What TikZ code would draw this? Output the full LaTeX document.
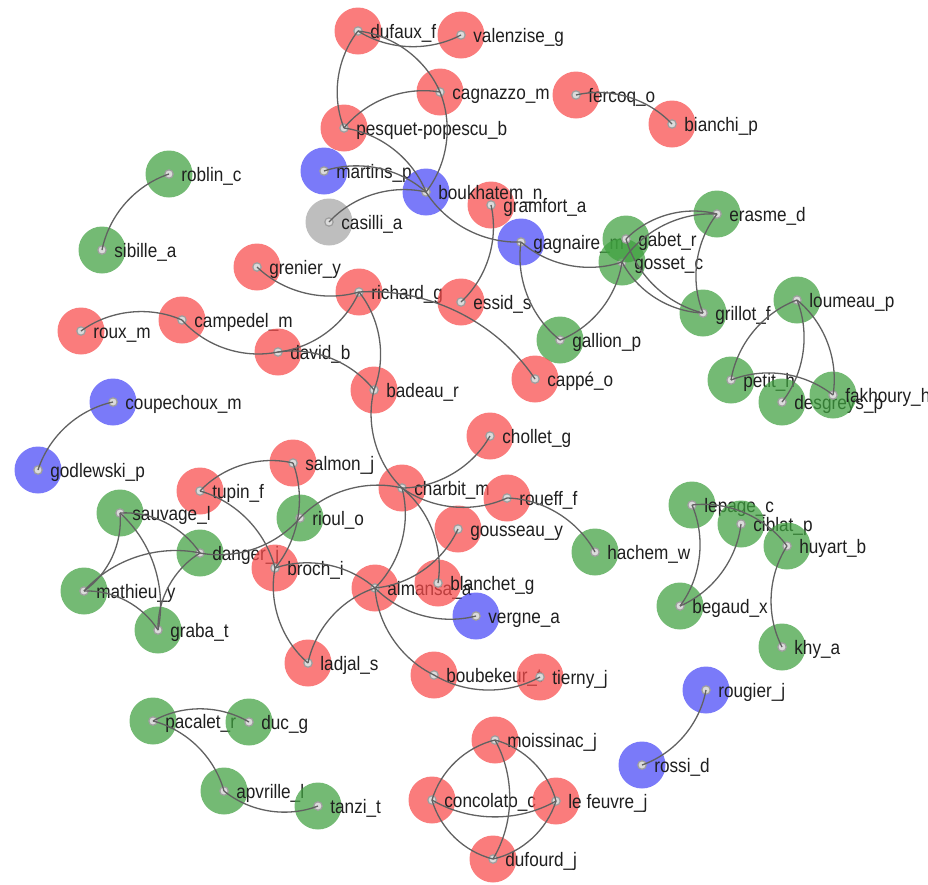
\documentclass[tikz,border=0pt]{standalone}
\usepackage{fontspec}
\newfontfamily\aufont{Liberation Sans}[FakeStretch=0.88]
\usetikzlibrary{positioning}

\definecolor{aured}{RGB}{248,74,74}
\definecolor{augreen}{RGB}{62,160,62}
\definecolor{aublue}{RGB}{70,70,246}
\definecolor{augrey}{RGB}{165,165,165}

\begin{document}
\begin{tikzpicture}[
    x=1pt, y=-1pt,
    ctrdot/.style={opacity=1, fill=black!14, draw=black!38, line width=1.2pt},
    lbl/.style={anchor=base west, inner sep=0pt, xshift=-11.5pt, yshift=-7pt, text opacity=1,
      fill opacity=1, text=black!88, font=\aufont\fontsize{19.5}{20}\selectfont},
    au/.style={circle, inner sep=0pt, minimum size=47pt, fill opacity=.72,
      path picture={\draw[ctrdot] (path picture bounding box.center) circle (4.2pt);},
      label={[lbl]right:#1}},
    redau/.style={au=#1, fill=aured},
    greenau/.style={au=#1, fill=augreen},
    blueau/.style={au=#1, fill=aublue},
    greyau/.style={au=#1, fill=augrey},
    link/.style={draw=black!62, line width=1.3pt, bend angle=30, looseness=.9}
]
\useasboundingbox (0,0) rectangle (928,884);

% Top group
\node[redau=dufaux\_f] (dufaux) at (358,31) {};
\node[redau=valenzise\_g] (valenzise) at (461,35) {};
\node[redau=cagnazzo\_m] (cagnazzo) at (440,92) {};
\node[redau=fercoq\_o] (fercoq) at (576,95) {};
\node[redau=bianchi\_p] (bianchi) at (672,124) {};
\node[redau=pesquet-popescu\_b] (pesquet) at (344,128) {};
\node[blueau=martins\_p] (martins) at (324,171) {};
\node[greenau=roblin\_c] (roblin) at (169,174) {};
\node[redau=gramfort\_a] (gramfort) at (491,205) {};
\node[blueau=boukhatem\_n] (boukhatem) at (426,192) {};
\node[greyau=casilli\_a] (casilli) at (329,222) {};
\node[greenau=sibille\_a] (sibille) at (102,250) {};
\node[blueau=gagnaire\_m] (gagnaire) at (521,242) {};
\node[greenau=erasme\_d] (erasme) at (717,214) {};
\node[greenau=gosset\_c] (gosset) at (622,262) {};
\node[greenau=gabet\_r] (gabet) at (626,239) {};

% Middle group
\node[redau=grenier\_y] (grenier) at (257,267) {};
\node[redau=richard\_g] (richard) at (359,292) {};
\node[redau=essid\_s] (essid) at (461,302) {};
\node[redau=campedel\_m] (campedel) at (182,320) {};
\node[redau=roux\_m] (roux) at (81,331) {};
\node[redau=david\_b] (david) at (278,352) {};
\node[greenau=gallion\_p] (gallion) at (560,340) {};
\node[greenau=grillot\_f] (grillot) at (703,313) {};
\node[greenau=loumeau\_p] (loumeau) at (797,300) {};
\node[greenau=petit\_h] (petit) at (731,380) {};
\node[greenau=desgreys\_p] (desgreys) at (782,402) {};
\node[greenau=fakhoury\_h] (fakhoury) at (833,395) {};
\node[redau=cappé\_o] (cappe) at (535,379) {};
\node[redau=badeau\_r] (badeau) at (374,390) {};
\node[blueau=coupechoux\_m] (coupechoux) at (113,402) {};
\node[blueau=godlewski\_p] (godlewski) at (38,470) {};

% Lower group
\node[redau=chollet\_g] (chollet) at (490,436) {};
\node[redau=salmon\_j] (salmon) at (293,463) {};
\node[redau=tupin\_f] (tupin) at (200,491) {};
\node[redau=charbit\_m] (charbit) at (402,488) {};
\node[redau=roueff\_f] (roueff) at (507,498) {};
\node[greenau=sauvage\_l] (sauvage) at (120,513) {};
\node[greenau=rioul\_o] (rioul) at (300,518) {};
\node[redau=gousseau\_y] (gousseau) at (458,529) {};
\node[greenau=hachem\_w] (hachem) at (595,552) {};
\node[greenau=danger\_j] (danger) at (200,553) {};
\node[redau=broch\_i] (broch) at (275,568) {};
\node[redau=almansa\_a] (almansa) at (375,588) {};
\node[redau=blanchet\_g] (blanchet) at (438,583) {};
\node[blueau=vergne\_a] (vergne) at (476,616) {};
\node[greenau=mathieu\_y] (mathieu) at (84,591) {};
\node[greenau=graba\_t] (graba) at (158,630) {};
\node[redau=ladjal\_s] (ladjal) at (308,663) {};
\node[redau=boubekeur\_t] (boubekeur) at (434,675) {};
\node[redau=tierny\_j] (tierny) at (540,677) {};
\node[greenau=lepage\_c] (lepage) at (692,505) {};
\node[greenau=ciblat\_p] (ciblat) at (741,524) {};
\node[greenau=huyart\_b] (huyart) at (787,546) {};
\node[greenau=begaud\_x] (begaud) at (680,606) {};
\node[greenau=khy\_a] (khy) at (782,647) {};
\node[blueau=rougier\_j] (rougier) at (706,690) {};
\node[blueau=rossi\_d] (rossi) at (642,765) {};

% Bottom group
\node[greenau=pacalet\_r] (pacalet) at (153,721) {};
\node[greenau=duc\_g] (duc) at (249,722) {};
\node[greenau=apvrille\_l] (apvrille) at (224,791) {};
\node[greenau=tanzi\_t] (tanzi) at (318,806) {};
\node[redau=moissinac\_j] (moissinac) at (495,740) {};
\node[redau=concolato\_c] (concolato) at (432,800) {};
\node[redau=le feuvre\_j] (lefeuvre) at (556,801) {};
\node[redau=dufourd\_j] (dufourd) at (493,859) {};

% Links
\draw[link] (dufaux.center) to[bend right] (valenzise.center);
\draw[link] (dufaux.center) to[bend right] (pesquet.center);
\draw[link] (dufaux.center) to[bend left] (cagnazzo.center);
\draw[link] (cagnazzo.center) to[bend left] (boukhatem.center);
\draw[link] (cagnazzo.center) to[bend right] (pesquet.center);
\draw[link] (pesquet.center) to[bend left] (boukhatem.center);
\draw[link] (martins.center) to[bend left] (boukhatem.center);
\draw[link] (casilli.center) to[bend left] (boukhatem.center);
\draw[link] (boukhatem.center) to[bend right] (gagnaire.center);
\draw[link] (fercoq.center) to[bend left] (bianchi.center);
\draw[link] (roblin.center) to[bend right] (sibille.center);
\draw[link] (gramfort.center) to[bend left] (essid.center);
\draw[link] (gagnaire.center) to[bend right] (gosset.center);
\draw[link] (gagnaire.center) to[bend right] (gallion.center);
\draw[link] (gallion.center) to[bend right] (gosset.center);
\draw[link] (gabet.center) to[bend left] (erasme.center);
\draw[link] (gosset.center) to[bend left] (erasme.center);
\draw[link] (erasme.center) to[bend right] (grillot.center);
\draw[link] (gabet.center) to[bend right] (grillot.center);
\draw[link] (gosset.center) to[bend right] (grillot.center);
\draw[link] (loumeau.center) to[bend right] (petit.center);
\draw[link] (loumeau.center) to[bend left] (desgreys.center);
\draw[link] (loumeau.center) to[bend left] (fakhoury.center);
\draw[link] (petit.center) to[bend left] (fakhoury.center);
\draw[link] (grenier.center) to[bend right] (richard.center);
\draw[link] (richard.center) to[bend left] (cappe.center);
\draw[link] (roux.center) to[bend left] (campedel.center);
\draw[link] (campedel.center) to[bend right] (david.center);
\draw[link] (david.center) to[bend right] (richard.center);
\draw[link] (david.center) to[bend left] (badeau.center);
\draw[link] (richard.center) to[bend left] (badeau.center);
\draw[link] (badeau.center) to[bend right] (charbit.center);
\draw[link] (coupechoux.center) to[bend right] (godlewski.center);
\draw[link] (chollet.center) to[bend left] (charbit.center);
\draw[link] (salmon.center) to[bend right] (tupin.center);
\draw[link] (salmon.center) to[bend left] (broch.center);
\draw[link] (tupin.center) to[bend left] (broch.center);
\draw[link] (broch.center) to[bend right] (ladjal.center);
\draw[link] (danger.center) to[bend right] (rioul.center);
\draw[link] (rioul.center) to[bend left] (charbit.center);
\draw[link] (charbit.center) to[bend right] (roueff.center);
\draw[link] (roueff.center) to[bend left] (hachem.center);
\draw[link] (charbit.center) to[bend left] (blanchet.center);
\draw[link] (charbit.center) to[bend left] (almansa.center);
\draw[link] (almansa.center) to[bend right] (gousseau.center);
\draw[link] (broch.center) to[bend left] (almansa.center);
\draw[link] (almansa.center) to[bend right] (vergne.center);
\draw[link] (ladjal.center) to[bend left] (almansa.center);
\draw[link] (almansa.center) to[bend right] (boubekeur.center);
\draw[link] (boubekeur.center) to[bend right] (tierny.center);
\draw[link] (sauvage.center) to[bend left] (danger.center);
\draw[link] (sauvage.center) to[bend left] (mathieu.center);
\draw[link] (sauvage.center) to[bend left] (graba.center);
\draw[link] (mathieu.center) to[bend left] (danger.center);
\draw[link] (mathieu.center) to[bend left] (graba.center);
\draw[link] (danger.center) to[bend right] (graba.center);
\draw[link] (lepage.center) to[bend left] (begaud.center);
\draw[link] (ciblat.center) to[bend left] (begaud.center);
\draw[link] (lepage.center) to[bend left] (huyart.center);
\draw[link] (huyart.center) to[bend right] (khy.center);
\draw[link] (rougier.center) to[bend left] (rossi.center);
\draw[link] (pacalet.center) to[bend left] (duc.center);
\draw[link] (pacalet.center) to[bend left] (apvrille.center);
\draw[link] (apvrille.center) to[bend right] (tanzi.center);
\draw[link] (moissinac.center) to[bend right] (concolato.center);
\draw[link] (moissinac.center) to[bend left] (lefeuvre.center);
\draw[link] (moissinac.center) to[bend left] (dufourd.center);
\draw[link] (concolato.center) to[bend right] (lefeuvre.center);
\draw[link] (concolato.center) to[bend right] (dufourd.center);
\draw[link] (lefeuvre.center) to[bend left] (dufourd.center);

\end{tikzpicture}
\end{document}
